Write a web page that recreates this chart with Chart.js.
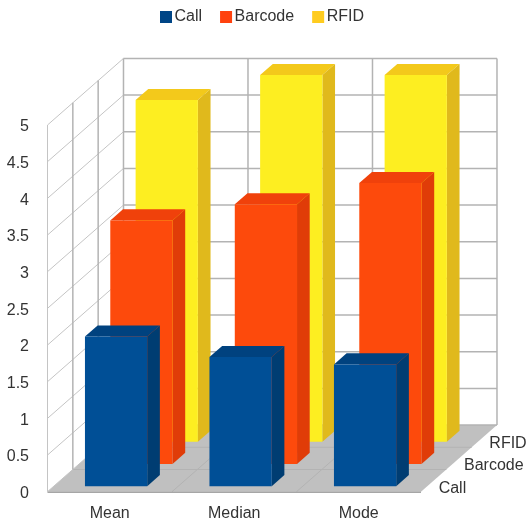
<!DOCTYPE html>
<html>
<head>
<meta charset="utf-8">
<title>Call, Barcode, RFID</title>
<style>
    html, body { margin: 0; padding: 0; background: #ffffff; }
    canvas { display: block; }
</style>
<script src="https://cdn.jsdelivr.net/npm/chart.js@4/dist/chart.umd.min.js"></script>
</head>
<body>
<canvas id="chart" width="529" height="519"></canvas>
<script>
const categories = ['Mean', 'Median', 'Mode'];
const seriesNames = ['Call', 'Barcode', 'RFID'];
const callValues = [2.04, 1.76, 1.66];
const barcodeValues = [3.32, 3.54, 3.83];
const rfidValues = [4.66, 5, 5];

const legendColors = ['#004586', '#ff420e', '#ffcc1f'];
const faceColors = ['#004f96', '#fd4a0c', '#fdee21'];
const topColors = ['#00427f', '#f0410b', '#f3c91b'];
const sideColors = ['#003d72', '#e03c08', '#e0b91c'];

const FONT = '16px "Liberation Sans"';
const TEXT_COLOR = '#333333';
const GRID_COLOR = '#b3b3b3';

// size of one depth slot on the screen
const SLOT_DX = 25.33;
const SLOT_DY = -22.2;

function setupFont(ctx, align) {
    ctx.font = FONT;
    ctx.fillStyle = TEXT_COLOR;
    ctx.textAlign = align;
    ctx.textBaseline = 'middle';
}

function line(ctx, x1, y1, x2, y2, color, width) {
    ctx.strokeStyle = color;
    ctx.lineWidth = width;
    ctx.beginPath();
    ctx.moveTo(x1, y1);
    ctx.lineTo(x2, y2);
    ctx.stroke();
}

function polygon(ctx, points, color) {
    ctx.fillStyle = color;
    ctx.beginPath();
    points.forEach(function (p, i) {
        if (i === 0) ctx.moveTo(p[0], p[1]);
        else ctx.lineTo(p[0], p[1]);
    });
    ctx.closePath();
    ctx.fill();
}

// walls, floor, depth labels and the 3D look of the bars
const depthPlugin = {
    id: 'depth',

    // push each series back to its own depth slot
    afterDatasetsUpdate(chart) {
        chart.data.datasets.forEach(function (ds, i) {
            chart.getDatasetMeta(i).data.forEach(function (bar) {
                bar.x += SLOT_DX * (i + 0.25);
                bar.y += SLOT_DY * (i + 0.25);
                bar.base += SLOT_DY * (i + 0.25);
            });
        });
    },

    beforeDatasetsDraw(chart) {
        const ctx = chart.ctx;
        const area = chart.chartArea;
        const slots = seriesNames.length;
        const backX = SLOT_DX * slots;
        const backY = SLOT_DY * slots;
        const yScale = chart.scales.y;
        const step = (area.right - area.left) / categories.length;
        ctx.save();

        // floor
        polygon(ctx, [
            [area.left, area.bottom], [area.right, area.bottom],
            [area.right + backX, area.bottom + backY], [area.left + backX, area.bottom + backY]
        ], '#c0c0c0');

        for (let i = 1; i < slots; i++) {
            line(ctx, area.left + SLOT_DX * i, area.bottom + SLOT_DY * i,
                area.right + SLOT_DX * i, area.bottom + SLOT_DY * i, GRID_COLOR, 1);
        }
        for (let i = 1; i < categories.length; i++) {
            const x = area.left + step * i;
            line(ctx, x, area.bottom, x + backX, area.bottom + backY, GRID_COLOR, 1);
        }
        line(ctx, area.left, area.bottom + 0.5, area.right, area.bottom + 0.5, '#a6a6a6', 1.5);

        // horizontal grid on side and back wall
        yScale.ticks.forEach(function (tick) {
            const y = yScale.getPixelForValue(tick.value);
            line(ctx, area.left, y, area.left + backX, y + backY, '#c4c4c4', 1);
            line(ctx, area.left + backX, y + backY, area.right + backX, y + backY, GRID_COLOR, 1.5);
        });

        // vertical grid on the side wall
        for (let i = 0; i <= slots; i++) {
            const x = area.left + SLOT_DX * i;
            const dy = SLOT_DY * i;
            line(ctx, x, area.top + dy, x, area.bottom + dy, i === 0 ? '#c4c4c4' : GRID_COLOR, i === 0 ? 1 : 1.5);
        }

        // vertical grid on the back wall
        for (let i = 1; i <= categories.length; i++) {
            const x = area.left + step * i + backX;
            line(ctx, x, area.top + backY, x, area.bottom + backY, GRID_COLOR, 1.5);
        }

        // depth axis labels
        setupFont(ctx, 'left');
        seriesNames.forEach(function (name, i) {
            ctx.fillText(name, area.right + SLOT_DX * (i + 0.5) + 5, area.bottom + SLOT_DY * (i + 0.5) + 7.5);
        });

        ctx.restore();
    },

    beforeDatasetDraw(chart, args) {
        const ctx = chart.ctx;
        const i = args.index;
        const dx = SLOT_DX * 0.5;
        const dy = SLOT_DY * 0.5;
        ctx.save();
        args.meta.data.forEach(function (bar) {
            const left = bar.x - bar.width / 2;
            const right = bar.x + bar.width / 2;
            polygon(ctx, [
                [left, bar.y], [right, bar.y], [right + dx, bar.y + dy], [left + dx, bar.y + dy]
            ], topColors[i]);
            polygon(ctx, [
                [right, bar.y], [right + dx, bar.y + dy], [right + dx, bar.base + dy], [right, bar.base]
            ], sideColors[i]);
        });
        ctx.restore();
    },

    // legend row on top
    afterDraw(chart) {
        const ctx = chart.ctx;
        const y = 17;
        let x = 160;
        ctx.save();
        seriesNames.forEach(function (name, i) {
            ctx.fillStyle = legendColors[i];
            ctx.fillRect(x, y - 6, 12, 12);
            setupFont(ctx, 'left');
            ctx.fillText(name, x + 14.5, y);
            x += 14.5 + ctx.measureText(name).width + 18;
        });
        ctx.restore();
    }
};

function plottingChart() {
    const canvas = document.getElementById('chart');
    const values = [callValues, barcodeValues, rfidValues];

    new Chart(canvas, {
        type: 'bar',
        data: {
            labels: categories,
            datasets: seriesNames.map(function (name, i) {
                return {
                    label: name,
                    data: values[i],
                    backgroundColor: faceColors[i],
                    borderWidth: 0,
                    clip: false
                };
            })
        },
        options: {
            responsive: false,
            animation: false,
            events: [],
            grouped: false,
            categoryPercentage: 0.5,
            barPercentage: 1,
            layout: {
                padding: { left: 0, right: 108, top: 125, bottom: 0 }
            },
            plugins: {
                legend: { display: false },
                tooltip: { enabled: false }
            },
            scales: {
                x: {
                    grid: { display: false },
                    border: { display: false },
                    ticks: {
                        color: TEXT_COLOR,
                        font: { family: 'Liberation Sans', size: 16 },
                        padding: 4,
                        maxRotation: 0
                    },
                    afterFit: function (scale) { scale.height = 27.3; }
                },
                y: {
                    min: 0,
                    max: 5,
                    grid: { display: false },
                    border: { display: false },
                    ticks: {
                        stepSize: 0.5,
                        color: TEXT_COLOR,
                        font: { family: 'Liberation Sans', size: 16 },
                        padding: 10.5,
                        labelOffset: 2,
                        callback: function (value) { return String(value); }
                    },
                    afterFit: function (scale) { scale.width = 47.5; }
                }
            }
        },
        plugins: [depthPlugin]
    });
}

plottingChart();
</script>
</body>
</html>
